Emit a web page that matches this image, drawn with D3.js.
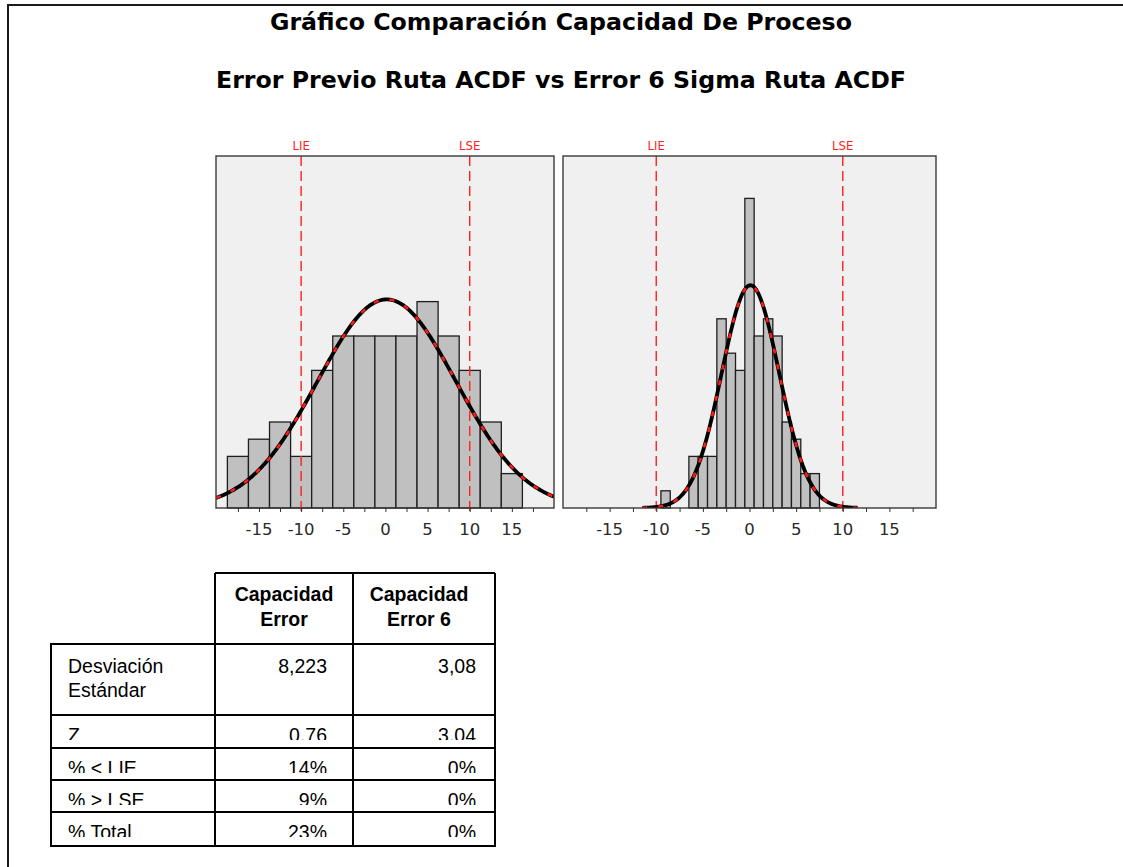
<!DOCTYPE html>
<html>
<head>
<meta charset="utf-8">
<script src="https://cdn.jsdelivr.net/npm/d3@7"></script>
<style>
  body { margin: 0; background: #fff; }
</style>
</head>
<body>
<div class="canvas"></div>
<script>
// histogram data
const prevCenters = [-17.5, -15, -12.5, -10, -7.5, -5, -2.5, 0, 2.5, 5, 7.5, 10, 12.5, 15]
const prevCounts = [3, 4, 5, 3, 8, 10, 10, 10, 10, 12, 10, 8, 5, 2]
const sixCenters = [-9, -8, -7, -6, -5, -4, -3, -2, -1, 0, 1, 2, 3, 4, 5, 6, 7]
const sixCounts = [1, 0, 0, 3, 3, 3, 11, 9, 8, 18, 10, 11, 10, 5, 4, 2, 2]
const binWidths = [2.5, 1]
const means = [0.15, 0.1]
const sds = [8.223, 3.08]
const curveRanges = [[-20.1, 20], [-11.5, 11.6]]
const specLimits = [-10, 10]
const specLabels = ['LIE', 'LSE']
const tickLabels = [-15, -10, -5, 0, 5, 10, 15]
const minorTicks = [-17.5, -15, -12.5, -10, -7.5, -5, -2.5, 0, 2.5, 5, 7.5, 10, 12.5, 15, 17.5]

// table
const colHeaders = [['Capacidad', 'Error'], ['Capacidad', 'Error 6']]
const rowLabels = [['Desviación', 'Estándar'], ['Z'], ['% < LIE'], ['% > LSE'], ['% Total']]
const colError = ['8,223', '0,76', '14%', '9%', '23%']
const colError6 = ['3,08', '3,04', '0%', '0%', '0%']

const titles = ['Gráfico Comparación Capacidad De Proceso', 'Error Previo Ruta ACDF vs Error 6 Sigma Ruta ACDF']

const W = 1123, H = 867
const svg = d3.select('.canvas')
  .append('svg')
  .attr('width', W)
  .attr('height', H)

// outer frame
svg.append('path')
  .attr('d', `M8,${H} L8,5 L${W},5`)
  .attr('fill', 'none')
  .attr('stroke', '#1a1a1a')
  .attr('stroke-width', 2)

// titles
const titleGeo = [{ y: 30, len: 582 }, { y: 88, len: 690 }]
titles.forEach((t, i) => {
  svg.append('text')
    .attr('x', 561)
    .attr('y', titleGeo[i].y)
    .attr('text-anchor', 'middle')
    .attr('textLength', titleGeo[i].len)
    .attr('lengthAdjust', 'spacingAndGlyphs')
    .attr('font-family', 'DejaVu Sans, Verdana, sans-serif')
    .attr('font-weight', 'bold')
    .attr('font-size', 23)
    .attr('fill', '#000')
    .text(t)
})

// panels
const pTop = 156, pBase = 508
const y = d3.scaleLinear().domain([0, (pBase - pTop) / 17.2]).range([pBase, pTop])

const panels = [
  { x0: 216, x1: 554, domain: [-20.1, 20], centers: prevCenters, counts: prevCounts },
  { x0: 563, x1: 936, domain: [-20, 20], centers: sixCenters, counts: sixCounts },
]

panels.forEach((p, i) => {
  const x = d3.scaleLinear().domain(p.domain).range([p.x0, p.x1])
  const g = svg.append('g')
  const clipId = `clip${i}`

  svg.append('clipPath').attr('id', clipId)
    .append('rect')
    .attr('x', p.x0).attr('y', pTop)
    .attr('width', p.x1 - p.x0).attr('height', pBase - pTop)

  g.append('rect')
    .attr('x', p.x0).attr('y', pTop)
    .attr('width', p.x1 - p.x0).attr('height', pBase - pTop)
    .attr('fill', '#f0f0f0')

  const bw = binWidths[i]
  const bins = p.centers.map((c, j) => ({ c, n: p.counts[j] })).filter(d => d.n > 0)

  g.append('g').selectAll('rect')
    .data(bins)
    .enter()
    .append('rect')
    .attr('x', d => x(d.c - bw / 2))
    .attr('width', d => x(d.c + bw / 2) - x(d.c - bw / 2))
    .attr('y', d => y(d.n))
    .attr('height', d => y(0) - y(d.n))
    .attr('fill', '#c0c0c0')
    .attr('stroke', '#1e1e1e')
    .attr('stroke-width', 1.3)

  // spec limits
  specLimits.forEach((s, k) => {
    g.append('line')
      .attr('x1', x(s)).attr('x2', x(s))
      .attr('y1', pTop).attr('y2', pBase + 3)
      .attr('stroke', '#ff2020')
      .attr('stroke-width', 1.4)
      .attr('stroke-dasharray', '10,5')
    g.append('text')
      .attr('x', x(s)).attr('y', 150)
      .attr('text-anchor', 'middle')
      .attr('font-family', 'DejaVu Sans Condensed, DejaVu Sans, sans-serif')
      .attr('font-size', 13)
      .attr('fill', '#ff2020')
      .text(specLabels[k])
  })

  // fitted normal curve
  const scale = d3.sum(p.counts) * bw / (sds[i] * Math.sqrt(2 * Math.PI))
  const pts = d3.range(curveRanges[i][0], curveRanges[i][1] + 0.001, 0.1)
    .map(v => [v, scale * Math.exp(-0.5 * Math.pow((v - means[i]) / sds[i], 2))])
  const line = d3.line().x(d => x(d[0])).y(d => y(d[1])).curve(d3.curveBasis)

  const cg = g.append('g').attr('clip-path', `url(#${clipId})`)
  cg.append('path')
    .attr('d', line(pts))
    .attr('fill', 'none')
    .attr('stroke', '#000')
    .attr('stroke-width', 3.8)
  cg.append('path')
    .attr('d', line(pts))
    .attr('fill', 'none')
    .attr('stroke', '#ff1a1a')
    .attr('stroke-width', 2.6)
    .attr('stroke-dasharray', '5,11')

  // frame of panel
  g.append('rect')
    .attr('x', p.x0).attr('y', pTop)
    .attr('width', p.x1 - p.x0).attr('height', pBase - pTop)
    .attr('fill', 'none')
    .attr('stroke', '#3a3a3a')
    .attr('stroke-width', 1.4)

  // x axis
  const axis = g.append('g').attr('transform', `translate(0,${pBase})`)
    .call(d3.axisBottom(x).tickValues(minorTicks).tickSize(4).tickFormat(''))
  axis.select('.domain').remove()
  axis.selectAll('line').attr('stroke', '#333')

  g.append('g').selectAll('text')
    .data(tickLabels)
    .enter()
    .append('text')
    .attr('x', d => x(d))
    .attr('y', 535)
    .attr('text-anchor', 'middle')
    .attr('font-family', 'Tahoma, DejaVu Sans, sans-serif')
    .attr('font-size', 16.5)
    .attr('fill', '#2a2a2a')
    .text(d => d)
})

// table
const tFont = 'Liberation Sans, Arial, sans-serif'
const tSize = 19.5
const colX = [51, 215, 353, 495]
const headTop = 573
const rowY = [644, 715, 748, 780, 812, 846]
const tg = svg.append('g')

// header cells
colHeaders.forEach((h, c) => {
  const cx = c === 0 ? (colX[1] + colX[2]) / 2 : (colX[2] + colX[3]) / 2 - 5
  h.forEach((s, k) => {
    tg.append('text')
      .attr('x', cx).attr('y', 600.5 + k * 25)
      .attr('text-anchor', 'middle')
      .attr('font-family', tFont)
      .attr('font-weight', 'bold')
      .attr('font-size', tSize)
      .text(s)
  })
})

// body cells, clipped like the source (the text does not fit in the short rows)
const valueCols = [colError, colError6]
const rightPad = [26, 19]
rowLabels.forEach((lab, r) => {
  const t0 = rowY[r]
  const base = t0 + (r === 0 ? 28.5 : 27)
  const cid = `rowclip${r}`
  svg.append('clipPath').attr('id', cid)
    .append('rect')
    .attr('x', colX[0]).attr('y', t0)
    .attr('width', colX[3] - colX[0]).attr('height', 25)
  const rg = tg.append('g').attr('clip-path', r === 0 ? null : `url(#${cid})`)
  lab.forEach((s, k) => {
    rg.append('text')
      .attr('x', colX[0] + 17).attr('y', base + k * 24)
      .attr('font-family', tFont)
      .attr('font-size', tSize)
      .text(s)
  })
  valueCols.forEach((col, c) => {
    rg.append('text')
      .attr('x', colX[c + 2] - rightPad[c]).attr('y', base)
      .attr('text-anchor', 'end')
      .attr('font-family', tFont)
      .attr('font-size', tSize)
      .text(col[r])
  })
})

// grid lines
const stroke = l => l.attr('stroke', '#000').attr('stroke-width', 2)
stroke(tg.append('line').attr('x1', colX[1]).attr('x2', colX[3]).attr('y1', headTop).attr('y2', headTop))
rowY.forEach(yy => {
  stroke(tg.append('line').attr('x1', colX[0] - 1).attr('x2', colX[3] + 1).attr('y1', yy).attr('y2', yy))
})
colX.forEach((xx, c) => {
  stroke(tg.append('line').attr('x1', xx).attr('x2', xx)
    .attr('y1', c === 0 ? rowY[0] : headTop).attr('y2', rowY[rowY.length - 1]))
})
</script>
</body>
</html>
